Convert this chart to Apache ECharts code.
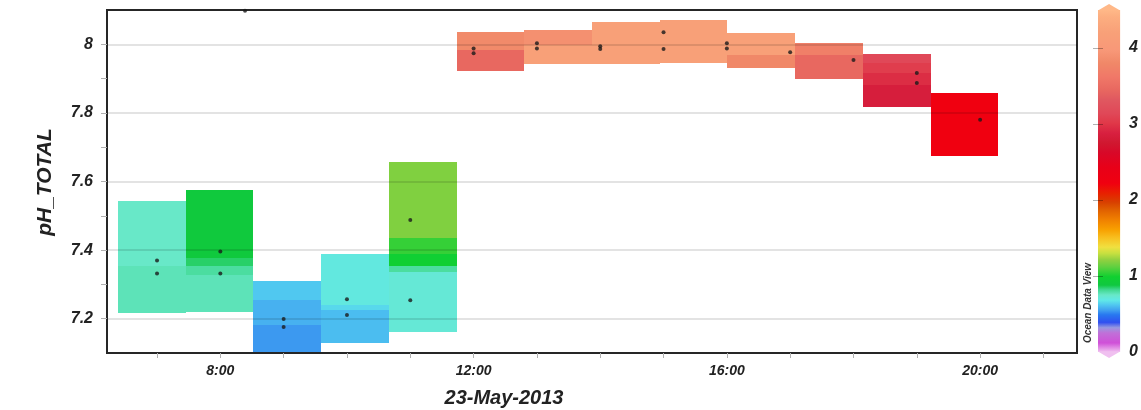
<!DOCTYPE html>
<html>
<head>
<meta charset="utf-8">
<script src="https://cdn.jsdelivr.net/npm/echarts@6/dist/echarts.min.js"></script>
<style>
  html, body { margin: 0; padding: 0; background: #fff; }
  #chart { width: 1141px; height: 410px; }
</style>
</head>
<body>
<div id="chart"></div>
<script>
// Time axis (hours of 23-May-2013)
const hourTicks = [7, 8, 9, 10, 11, 12, 13, 14, 15, 16, 17, 18, 19, 20, 21];
const hourLabels = [8, 12, 16, 20];

// pH axis
const phLabels = [7.2, 7.4, 7.6, 7.8, 8.0];
const phTicks = [7.2, 7.3, 7.4, 7.5, 7.6, 7.7, 7.8, 7.9, 8.0];

// Colour bar labels
const colorbarLabels = [0, 1, 2, 3, 4];

// Measured samples: [hour, pH_TOTAL]
const samples = [
  [7.0, 7.370], [7.0, 7.332],
  [8.0, 7.396], [8.0, 7.332],
  [8.39, 8.098],
  [9.0, 7.199], [9.0, 7.176],
  [10.0, 7.257], [10.0, 7.211],
  [11.0, 7.488], [11.0, 7.254],
  [12.0, 7.988], [12.0, 7.974],
  [13.0, 8.003], [13.0, 7.988],
  [14.0, 7.994], [14.0, 7.986],
  [15.0, 8.035], [15.0, 7.986],
  [16.0, 8.003], [16.0, 7.988],
  [17.0, 7.977],
  [18.0, 7.954],
  [19.0, 7.916], [19.0, 7.887],
  [20.0, 7.780]
];

// Gridded field cells: [hourStart, hourEnd, pHLow, pHHigh, colour value]
const cells = [
  [6.38, 7.45, 7.353, 7.543, 0.75],
  [6.38, 7.45, 7.217, 7.353, 0.77],

  [7.45, 8.52, 7.376, 7.575, 0.90],
  [7.45, 8.52, 7.353, 7.376, 0.85],
  [7.45, 8.52, 7.327, 7.353, 0.80],
  [7.45, 8.52, 7.220, 7.327, 0.77],

  [8.52, 9.59, 7.254, 7.309, 0.62],
  [8.52, 9.59, 7.182, 7.254, 0.58],
  [8.52, 9.59, 7.100, 7.182, 0.54],

  [9.59, 10.66, 7.240, 7.390, 0.70],
  [9.59, 10.66, 7.225, 7.240, 0.65],
  [9.59, 10.66, 7.130, 7.225, 0.60],

  [10.66, 11.73, 7.434, 7.656, 1.18],
  [10.66, 11.73, 7.390, 7.434, 1.05],
  [10.66, 11.73, 7.353, 7.390, 0.97],
  [10.66, 11.73, 7.335, 7.353, 0.80],
  [10.66, 11.73, 7.162, 7.335, 0.72],

  [11.73, 12.80, 7.983, 8.035, 3.82],
  [11.73, 12.80, 7.922, 7.983, 3.45],

  [12.80, 13.87, 7.997, 8.043, 3.88],
  [12.80, 13.87, 7.942, 7.997, 4.20],

  [13.87, 14.94, 7.942, 8.064, 4.20],

  [14.94, 16.01, 7.945, 8.072, 4.20],

  [16.01, 17.08, 7.968, 8.032, 4.20],
  [16.01, 17.08, 7.931, 7.968, 3.80],

  [17.08, 18.15, 7.968, 8.003, 3.70],
  [17.08, 18.15, 7.899, 7.968, 3.45],

  [18.15, 19.22, 7.945, 7.971, 3.14],
  [18.15, 19.22, 7.916, 7.945, 3.05],
  [18.15, 19.22, 7.882, 7.916, 2.95],
  [18.15, 19.22, 7.818, 7.882, 2.85],

  [19.22, 20.29, 7.673, 7.858, 2.22]
];

// Colour scale stops (value -> colour)
const paletteValues = [0, 0.12, 0.25, 0.32, 0.39, 0.49, 0.55, 0.62, 0.68, 0.75, 0.82, 0.88, 0.99,
  1.12, 1.21, 1.30, 1.38, 1.50, 1.61, 1.74, 1.87, 1.97, 2.09, 2.22, 2.43, 2.62, 2.75, 2.88,
  3.01, 3.14, 3.32, 3.45, 3.62, 3.80, 3.97, 4.20, 4.41, 4.50];
const paletteColors = ['#f0c0f0', '#d050d8', '#c070d8', '#9898e0', '#3050f0', '#2878f0', '#40a0f0',
  '#50c8f0', '#60e8e8', '#68e8c8', '#40d890', '#10c840', '#10d030', '#60d040', '#90d040', '#c8e040',
  '#f0e040', '#f8c020', '#f8a000', '#f08000', '#e06000', '#d84000', '#e82000', '#f00010', '#e80018',
  '#d80828', '#d01830', '#d82040', '#e03848', '#e04858', '#e05860', '#e86860', '#f07868', '#f08868',
  '#f89878', '#f8a078', '#fcae80', '#ffb888'];

const scaleMin = paletteValues[0];
const scaleMax = paletteValues[paletteValues.length - 1];

function hexToRgb(h) {
  return [parseInt(h.slice(1, 3), 16), parseInt(h.slice(3, 5), 16), parseInt(h.slice(5, 7), 16)];
}
function colorAt(v) {
  if (v <= paletteValues[0]) return paletteColors[0];
  for (let i = 1; i < paletteValues.length; i++) {
    if (v <= paletteValues[i]) {
      const t = (v - paletteValues[i - 1]) / (paletteValues[i] - paletteValues[i - 1]);
      const a = hexToRgb(paletteColors[i - 1]);
      const b = hexToRgb(paletteColors[i]);
      const c = a.map((x, k) => Math.round(x + (b[k] - x) * t));
      return 'rgb(' + c.join(',') + ')';
    }
  }
  return paletteColors[paletteColors.length - 1];
}

const FONT = '"Liberation Sans", Arial, Helvetica, sans-serif';

const chart = echarts.init(document.getElementById('chart'), null, { renderer: 'canvas' });

chart.setOption({
  animation: false,
  backgroundColor: '#ffffff',
  grid: [
    { left: 107, right: 64, top: 10, bottom: 57, show: true, borderColor: '#262626', borderWidth: 2, backgroundColor: 'transparent' },
    { left: 1098, top: 10, width: 29, height: 342 }
  ],
  xAxis: [
    {
      gridIndex: 0, type: 'value', min: 6.21, max: 21.53, z: 3,
      axisLine: { show: true, lineStyle: { color: '#262626', width: 2 } },
      axisTick: { show: true, customValues: hourTicks, length: 5, lineStyle: { color: '#b0b0b0' } },
      axisLabel: {
        customValues: hourLabels, margin: 11,
        formatter: v => v + ':00',
        fontFamily: FONT, fontSize: 14, fontWeight: 'bold', fontStyle: 'italic', color: '#222'
      },
      splitLine: { show: false }
    },
    { gridIndex: 1, type: 'value', min: 0, max: 1, show: false }
  ],
  yAxis: [
    {
      gridIndex: 0, type: 'value', min: 7.1, max: 8.1, z: 3,
      axisLine: { show: true, lineStyle: { color: '#262626', width: 2 } },
      axisTick: { show: true, customValues: phTicks, length: 6, lineStyle: { color: '#b0b0b0' } },
      axisLabel: {
        customValues: phLabels, margin: 14,
        formatter: v => (Math.abs(v - 8) < 1e-9 ? '8' : v.toFixed(1)),
        fontFamily: FONT, fontSize: 16, fontWeight: 'bold', fontStyle: 'italic', color: '#222'
      },
      splitLine: { show: false }
    },
    {
      // grid lines drawn over the cells
      gridIndex: 0, type: 'value', min: 7.1, max: 8.1, z: 3, position: 'left',
      axisLine: { show: false },
      axisTick: { show: false, customValues: phLabels },
      axisLabel: { show: false },
      splitLine: { show: true, lineStyle: { color: 'rgba(0,0,0,0.15)', width: 1.5 } }
    },
    {
      gridIndex: 1, type: 'value', min: scaleMin, max: scaleMax, position: 'right', z: 3,
      axisLine: { show: false },
      axisTick: { show: true, inside: true, length: 5, customValues: [1, 2, 3, 4], lineStyle: { color: 'rgba(0,0,0,0.3)' } },
      axisLabel: {
        customValues: colorbarLabels, margin: 9,
        fontFamily: FONT, fontSize: 16, fontWeight: 'bold', fontStyle: 'italic', color: '#222'
      },
      splitLine: { show: false }
    },
    {
      gridIndex: 1, type: 'value', min: scaleMin, max: scaleMax, position: 'left', z: 3,
      axisLine: { show: false },
      axisTick: { show: true, inside: true, length: 5, customValues: [1, 2, 3, 4], lineStyle: { color: 'rgba(0,0,0,0.3)' } },
      axisLabel: { show: false },
      splitLine: { show: false }
    }
  ],
  graphic: [
    {
      type: 'text', x: 45, y: 182, rotation: Math.PI / 2,
      style: {
        text: 'pH_TOTAL', align: 'center', verticalAlign: 'middle',
        font: 'italic bold 21px ' + FONT, fill: '#222'
      }
    },
    {
      type: 'text', x: 504, y: 398,
      style: {
        text: '23-May-2013', align: 'center', verticalAlign: 'middle',
        font: 'italic bold 20px ' + FONT, fill: '#222'
      }
    },
    {
      type: 'text', x: 1088, y: 303, rotation: Math.PI / 2,
      style: {
        text: 'Ocean Data View', align: 'center', verticalAlign: 'middle',
        font: 'italic bold 10px ' + FONT, fill: '#333'
      }
    }
  ],
  series: [
    {
      type: 'custom',
      xAxisIndex: 0, yAxisIndex: 0,
      z: 2,
      encode: { x: [0, 1], y: [2, 3] },
      data: cells,
      renderItem: function (params, api) {
        const p0 = api.coord([api.value(0), api.value(3)]);
        const p1 = api.coord([api.value(1), api.value(2)]);
        const x0 = Math.round(p0[0]), y0 = Math.round(p0[1]);
        const x1 = Math.round(p1[0]), y1 = Math.round(p1[1]);
        return {
          type: 'rect',
          shape: { x: x0, y: y0, width: x1 - x0, height: y1 - y0 },
          style: { fill: colorAt(api.value(4)) }
        };
      }
    },
    {
      type: 'scatter',
      xAxisIndex: 0, yAxisIndex: 0,
      z: 5,
      symbolSize: 4,
      itemStyle: { color: '#1a1a1a' },
      data: samples
    },
    {
      // colour bar with pointed ends
      type: 'custom',
      xAxisIndex: 1, yAxisIndex: 2,
      z: 2,
      data: [[0, scaleMin, 1, scaleMax]],
      renderItem: function (params, api) {
        const top = api.coord([api.value(0), api.value(3)]);
        const bot = api.coord([api.value(2), api.value(1)]);
        const x0 = top[0], x1 = bot[0], yT = top[1], yB = bot[1];
        const xm = (x0 + x1) / 2;
        const stops = paletteValues.map((v, i) => ({
          offset: 1 - (v - scaleMin) / (scaleMax - scaleMin),
          color: paletteColors[i]
        })).reverse();
        return {
          type: 'group',
          children: [
            {
              type: 'rect',
              shape: { x: x0, y: yT, width: x1 - x0, height: yB - yT },
              style: { fill: new echarts.graphic.LinearGradient(0, 0, 0, 1, stops) }
            },
            {
              type: 'polygon',
              shape: { points: [[x0, yT + 0.5], [xm, yT - 6], [x1, yT + 0.5]] },
              style: { fill: paletteColors[paletteColors.length - 1] }
            },
            {
              type: 'polygon',
              shape: { points: [[x0, yB - 0.5], [xm, yB + 6], [x1, yB - 0.5]] },
              style: { fill: paletteColors[0] }
            }
          ]
        };
      }
    }
  ]
});
</script>
</body>
</html>
